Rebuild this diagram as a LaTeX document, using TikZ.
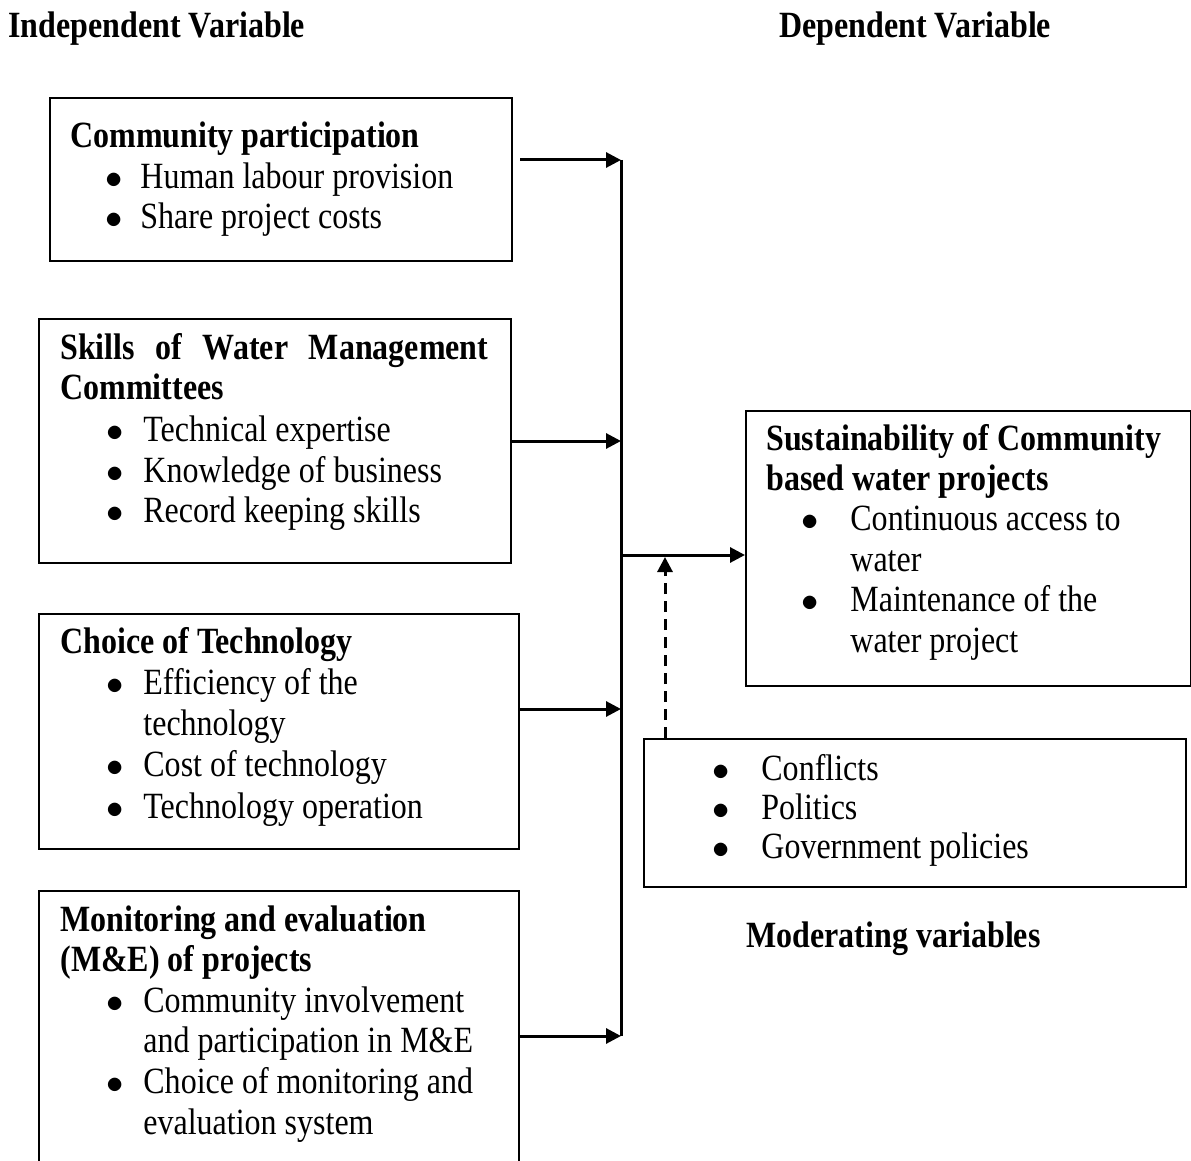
\documentclass[tikz,border=0pt]{standalone}
\usepackage{fontspec}
\setmainfont{Liberation Serif}[FakeStretch=0.865]
\usetikzlibrary{arrows.meta}

\newcommand{\bul}[2]{\hspace*{#1}\makebox[#2][l]{$\bullet$}}

\begin{document}
\begin{tikzpicture}[x=0.5pt, y=-0.5pt,
    box/.style={draw, line width=1pt, anchor=north west, inner sep=0pt},
    txt/.style={anchor=base west, inner sep=0pt, align=left, font=\fontsize{18.5pt}{#1}\selectfont},
    txt/.default=20.5pt,
    arr/.style={-{Triangle[length=7.5pt, width=7.5pt]}, line width=1.5pt}]
    \useasboundingbox (0,0) rectangle (1191,1161);
    \clip (0,0) rectangle (1191,1161);

    \node[txt] (indep) at (8,38) {\textbf{Independent Variable}};
    \node[txt] (dep) at (779,38) {\textbf{Dependent Variable}};

    \node[box, minimum width=231pt, minimum height=81.5pt] (cpbox) at (49,97) {};
    \node[txt] (cp) at (70,229) {\textbf{Community participation}\\
        \bul{17.5pt}{17.5pt}Human labour provision\\
        \bul{17.5pt}{17.5pt}Share project costs};

    \node[box, minimum width=236pt, minimum height=122pt] (skbox) at (38,318) {};
    \node[txt] (sk) at (60,523) {\makebox[214pt][s]{\textbf{Skills of Water Management}}\\
        \textbf{Committees}\\
        \bul{23pt}{18.5pt}Technical expertise\\
        \bul{23pt}{18.5pt}Knowledge of business\\
        \bul{23pt}{18.5pt}Record keeping skills};

    \node[box, minimum width=240pt, minimum height=117.5pt] (tcbox) at (38,613) {};
    \node[txt=20.6pt] (tc) at (60,818) {\textbf{Choice of Technology}\\
        \bul{23pt}{18.5pt}Efficiency of the\\
        \hspace*{41.5pt}technology\\
        \bul{23pt}{18.5pt}Cost of technology\\
        \bul{23pt}{18.5pt}Technology operation};

    \node[box, minimum width=240pt, minimum height=145pt] (mebox) at (38,890) {};
    \node[txt=20.3pt] (me) at (60,1134) {\textbf{Monitoring and evaluation}\\
        \textbf{(M\&E) of projects}\\
        \bul{23pt}{18.5pt}Community involvement\\
        \hspace*{41.5pt}and participation in M\&E\\
        \bul{23pt}{18.5pt}Choice of monitoring and\\
        \hspace*{41.5pt}evaluation system};

    \node[box, minimum width=222.5pt, minimum height=137.5pt] (susbox) at (745,410) {};
    \node[txt=20.2pt] (sus) at (766,652) {\textbf{Sustainability of Community}\\
        \textbf{based water projects}\\
        \bul{17.5pt}{24.5pt}Continuous access to\\
        \hspace*{42pt}water\\
        \bul{17.5pt}{24.5pt}Maintenance of the\\
        \hspace*{42pt}water project};

    \node[box, minimum width=271pt, minimum height=74pt] (modbox) at (643,738) {};
    \node[txt=19.5pt] (mod) at (712,858) {\bul{0pt}{24.5pt}Conflicts\\
        \bul{0pt}{24.5pt}Politics\\
        \bul{0pt}{24.5pt}Government policies};
    \node[txt] (modlab) at (746,947) {\textbf{Moderating variables}};

    \coordinate (s1) at (520,160);
    \coordinate (j1) at (621,160);
    \coordinate (j3) at (621,709);
    \coordinate (j4) at (621,1036);
    \coordinate (jm) at (622,555);
    \coordinate (dm) at (665,557);

    \draw[line width=1.5pt] (j1) -- (j4);
    \draw[arr] (s1) -- (j1);
    \draw[arr] (skbox.east) -- (skbox.east -| j1);
    \draw[arr] (tcbox.east |- j3) -- (j3);
    \draw[arr] (mebox.east |- j4) -- (j4);
    \draw[arr] (jm) -- (jm -| susbox.west);
    \draw[arr, dash pattern=on 5.5pt off 3.5pt] (modbox.north -| dm) -- (dm);
\end{tikzpicture}
\end{document}
